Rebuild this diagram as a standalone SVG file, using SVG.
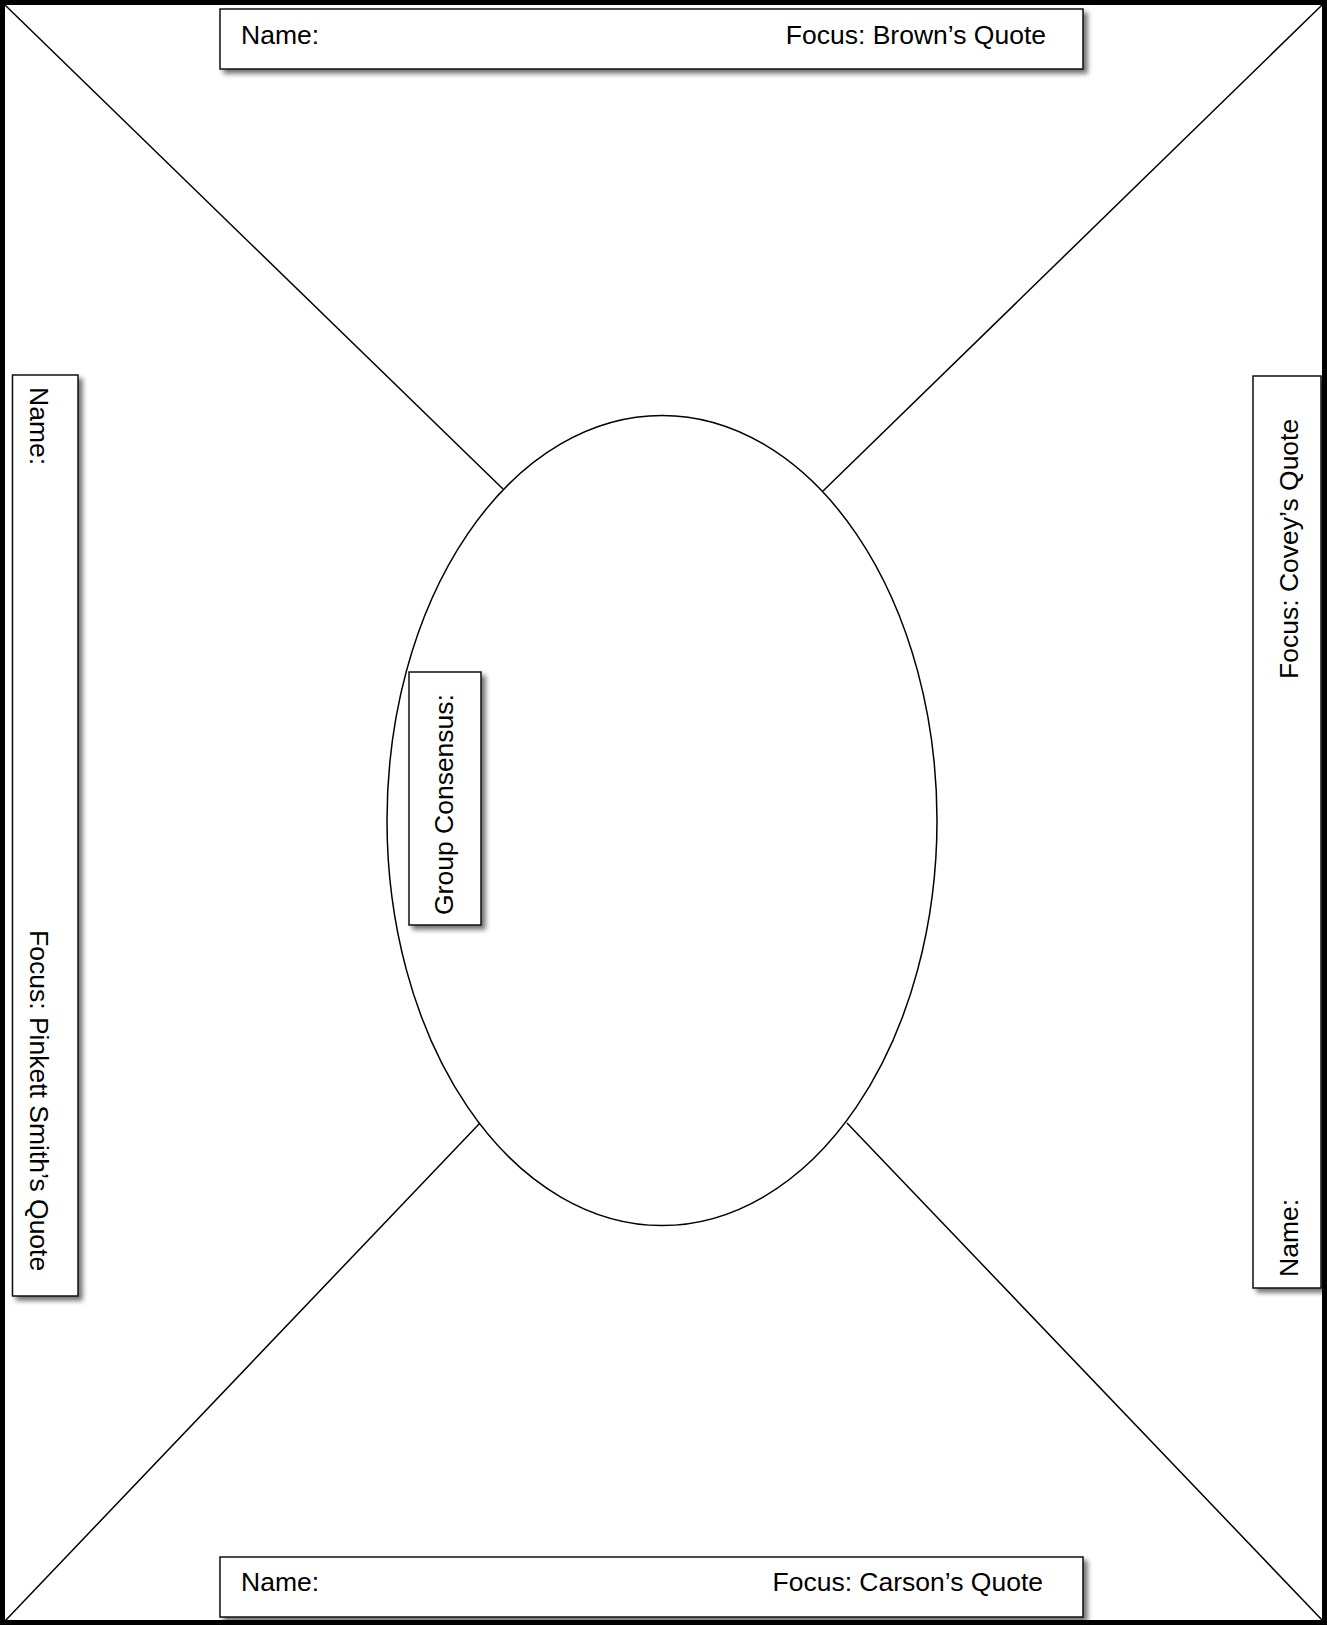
<svg xmlns="http://www.w3.org/2000/svg" width="1327" height="1625" viewBox="0 0 1327 1625">
<defs>
<filter id="sh" x="-20%" y="-20%" width="140%" height="140%">
<feDropShadow dx="4" dy="4" stdDeviation="2.5" flood-color="#000" flood-opacity="0.55"/>
</filter>
<style>
.box{fill:#fff;stroke:#111;stroke-width:1.5;filter:url(#sh)}
.ln{stroke:#000;stroke-width:1.5;fill:none}
.t{font-family:"Liberation Sans",Arial,sans-serif;font-size:26.5px;fill:#000}
</style>
</defs>
<rect x="0" y="0" width="1327" height="1625" fill="#fff"/>
<g id="connectors">
<line class="ln" x1="5" y1="5" x2="503" y2="489"/>
<line class="ln" x1="1322" y1="5" x2="823" y2="491"/>
<line class="ln" x1="5" y1="1621" x2="480" y2="1123"/>
<line class="ln" x1="1323" y1="1621" x2="847" y2="1123"/>
</g>
<g id="center-ellipse">
<ellipse cx="662" cy="820.5" rx="275" ry="405" fill="#fff" stroke="#000" stroke-width="1.5"/>
</g>
<g id="top-box">
<rect class="box" x="220" y="9" width="863" height="60"/>
<text class="t" x="241" y="43.5">Name:</text>
<text class="t" x="1046" y="43.5" text-anchor="end">Focus: Brown’s Quote</text>
</g>
<g id="bottom-box">
<rect class="box" x="220" y="1557" width="863" height="60"/>
<text class="t" x="241" y="1591">Name:</text>
<text class="t" x="1043" y="1591" text-anchor="end">Focus: Carson’s Quote</text>
</g>
<g id="left-box">
<rect class="box" x="12.5" y="375" width="65.5" height="921"/>
<text class="t" transform="translate(30,387) rotate(90)">Name:</text>
<text class="t" transform="translate(30,930) rotate(90)">Focus: Pinkett Smith’s Quote</text>
</g>
<g id="right-box">
<rect class="box" x="1253" y="376" width="68" height="912"/>
<text class="t" transform="translate(1298,679) rotate(-90)">Focus: Covey’s Quote</text>
<text class="t" transform="translate(1298,1277) rotate(-90)">Name:</text>
</g>
<g id="group-consensus">
<rect class="box" x="409" y="672" width="72" height="253"/>
<text class="t" transform="translate(453,915) rotate(-90)">Group Consensus:</text>
</g>
<rect x="2.5" y="2.5" width="1322" height="1620" fill="none" stroke="#000" stroke-width="5"/>
</svg>
